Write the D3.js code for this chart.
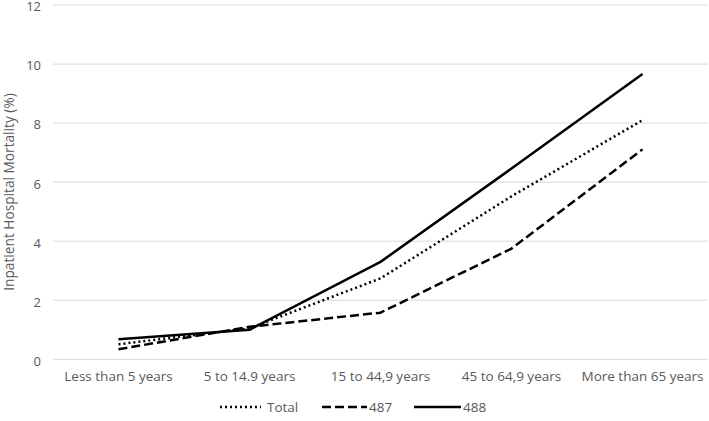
<!DOCTYPE html>
<html><head><meta charset="utf-8">
<script src="https://cdn.jsdelivr.net/npm/d3@7"></script>
<style>body{margin:0;background:#fff;} text{font-family:"Open Sans","Noto Sans",sans-serif;fill:#595959;}</style>
</head><body><svg id="c" width="709" height="421"></svg>
<script>
const categories = ["Less than 5 years","5 to 14.9 years","15 to 44,9 years","45 to 64,9 years","More than 65 years"];
const total = [0.51, 1.05, 2.74, 5.52, 8.1];
const s487 = [0.34, 1.1, 1.58, 3.75, 7.11];
const s488 = [0.68, 1.0, 3.3, 6.46, 9.66];
const yTicks = [0,2,4,6,8,10,12];
const seriesNames = ["Total","487","488"];

const svg = d3.select("#c");
const x = d3.scaleBand().domain(categories).range([53,708]);
const y = d3.scaleLinear().domain([0,12]).range([359.3,5]);

svg.append("g").selectAll("line").data(yTicks).join("line")
  .attr("x1",53).attr("x2",708).attr("y1",d=>y(d)).attr("y2",d=>y(d))
  .attr("stroke","#d9d9d9").attr("stroke-width",1);

const yAxis = d3.axisLeft(y).tickValues(yTicks).tickSize(0).tickPadding(0);
const gy = svg.append("g").attr("transform","translate(41,0)").call(yAxis);
gy.select(".domain").remove();
gy.selectAll("text").attr("font-size","13px").attr("dy","0.45em").style("fill","#595959");

const xAxis = d3.axisBottom(x).tickSize(0).tickPadding(0);
const gx = svg.append("g").attr("transform","translate(0,371)").call(xAxis);
gx.select(".domain").remove();
gx.selectAll("text").attr("font-size","13.5px").attr("dy","0.71em").style("fill","#595959");

svg.append("text").attr("transform","translate(14,192) rotate(-90)")
  .attr("text-anchor","middle").attr("font-size","13.7px").text("Inpatient Hospital Mortality (%)");

const styles = {"Total":"2,3","487":"9,4","488":null};
const data = {"Total":total,"487":s487,"488":s488};
const line = d3.line().x((d,i)=>x(categories[i])+x.bandwidth()/2).y(d=>y(d));
seriesNames.forEach(n=>{
  svg.append("path").datum(data[n]).attr("d",line).attr("fill","none")
    .attr("stroke","#000").attr("stroke-width",2.5)
    .attr("stroke-dasharray",styles[n]).attr("stroke-linejoin","round");
});

const legend = [{n:"Total",x0:220,x1:261,tx:267},{n:"487",x0:322,x1:367,tx:369},{n:"488",x0:414,x1:461,tx:463}];
legend.forEach(l=>{
  svg.append("line").attr("x1",l.x0).attr("x2",l.x1).attr("y1",407).attr("y2",407)
    .attr("stroke","#000").attr("stroke-width",2.5).attr("stroke-dasharray",styles[l.n]);
  svg.append("text").attr("x",l.tx).attr("y",412).attr("font-size","13.5px").text(l.n);
});
</script></body></html>
